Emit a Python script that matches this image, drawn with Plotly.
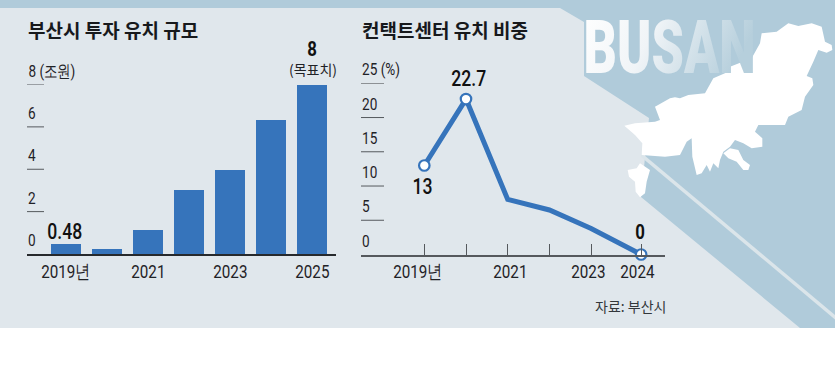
import plotly.graph_objects as go

W, H = 835, 383
NUM = "Roboto, sans-serif"
KR = "Noto Sans CJK KR, sans-serif"
INK = "#1f2226"
BLUE = "#3674bb"
LIGHT = "#e0e7ec"
BAND = "#b0cbda"

# ---- data ----
bar_title = "부산시 투자 유치 규모"
bar_years = [2019, 2020, 2021, 2022, 2023, 2024, 2025]
bar_values = [0.48, 0.27, 1.15, 3.05, 4.0, 6.33, 8]
bar_tick_years = [2019, 2021, 2023, 2025]
bar_tick_labels = ["2019년", "2021", "2023", "2025"]
bar_y_ticks = [0, 2, 4, 6, 8]
bar_y_labels = ["0", "2", "4", "6", "8 (조원)"]

line_title = "컨택트센터 유치 비중"
line_years = [2019, 2020, 2021, 2022, 2023, 2024.2]
line_values = [13, 22.7, 8.05, 6.5, 3.8, 0]
line_marked = [0, 1, 5]
line_tick_labels = ["2019년", "2021", "2023", "2024"]
line_tick_years = [2019, 2021, 2023, 2024.2]
line_tick_shift = [-6, 3, -3, -4]
line_y_ticks = [0, 5, 10, 15, 20, 25]
line_y_labels = ["0", "5", "10", "15", "20", "25 (%)"]
source = "자료: 부산시"


def px(x):
    return x / W


def py(y):
    return 1 - y / H


def poly(points, fill):
    d = "M" + " L".join(f"{px(x):.5f},{py(y):.5f}" for x, y in points) + " Z"
    return dict(type="path", xref="paper", yref="paper", path=d,
                fillcolor=fill, line=dict(width=0), layer="below")


def zoomed(points):
    return [(555 + x / 3, y / 3) for x, y in points]


map_main = zoomed([(208,377),(240,370),(300,365),(315,360),(300,320),(345,295),(360,292),(375,295),(400,285),(450,280),
    (475,235),(520,215),(525,200),(590,175),(615,130),(620,100),(665,95),(700,70),(730,78),(770,70),(800,80),(810,125),
    (830,135),(832,150),(815,158),(790,150),(775,185),(755,228),(772,235),(775,255),(750,290),(740,330),(700,350),
    (690,375),(655,375),(610,375),(600,395),(622,415),(622,440),(590,445),(565,430),(540,420),(525,440),(505,455),
    (495,480),(490,505),(475,490),(465,515),(455,495),(440,520),(425,525),(412,470),(410,415),(395,425),(375,465),
    (330,470),(260,465),(262,430),(240,405)])
map_yeongdo = zoomed([(505,460),(525,445),(550,450),(565,480),(585,495),(580,510),(565,510),(545,485),(520,475)])
map_gadeok = zoomed([(218,510),(245,505),(255,490),(285,510),(275,545),(270,580),(255,592),(242,575),(240,545),(222,530)])

shapes = [
    dict(type="rect", xref="paper", yref="paper", x0=0, x1=1, y0=py(328), y1=1,
         fillcolor=BAND, line=dict(width=0), layer="below"),
    poly([(0,8),(560,8),(584,22),(584,76),(649,118),(641,197),(800,328),(0,328)], LIGHT),
    poly([(641,152.5),(641,157),(835,319.5),(835,315)], "#dbe5ea"),
    poly(map_main, "#ffffff"),
    poly(map_yeongdo, "#ffffff"),
    poly(map_gadeok, "#ffffff"),
]

ann = []


def text(x, y, s, size=14, color=INK, font=NUM, xanchor="center", weight=400):
    ann.append(dict(x=px(x), y=py(y), xref="paper", yref="paper", text=s, showarrow=False, borderpad=0,
                    xanchor=xanchor, yanchor="middle",
                    font=dict(size=size, color=color, family=font, weight=weight)))


for v, lab in zip(bar_y_ticks, bar_y_labels):
    if v:
        shapes.append(dict(type="line", xref="paper", yref="y", x0=px(27), x1=px(44), y0=v, y1=v,
                           line=dict(color="#55595d", width=1)))
    ann.append(dict(x=px(27), y=v, xref="paper", yref="y", text=lab, showarrow=False, xanchor="left", borderpad=0,
                    yanchor="bottom", yshift=3, font=dict(size=17, color=INK, family=NUM)))

for v, lab in zip(line_y_ticks, line_y_labels):
    if v:
        shapes.append(dict(type="line", xref="paper", yref="y2", x0=px(361), x1=px(384), y0=v, y1=v,
                           line=dict(color="#55595d", width=1)))
    ann.append(dict(x=px(361), y=v, xref="paper", yref="y2", text=lab, showarrow=False, xanchor="left", borderpad=0,
                    yanchor="bottom", yshift=3, font=dict(size=17, color=INK, family=NUM)))

for yr, lab in zip(bar_tick_years, bar_tick_labels):
    ann.append(dict(x=yr, y=0, xref="x", yref="y", text=lab, showarrow=False, yanchor="top", yshift=-4,
                    font=dict(size=19, color=INK, family=NUM)))

for yr, lab, sh in zip(line_tick_years, line_tick_labels, line_tick_shift):
    ann.append(dict(x=yr, y=0, xref="x2", yref="y2", text=lab, showarrow=False, yanchor="top", yshift=-3,
                    xshift=sh, font=dict(size=19, color=INK, family=NUM)))

text(27, 30, bar_title, 19, "#17191c", KR, "left", 700)
text(361, 30, line_title, 19, "#17191c", KR, "left", 700)
text(65, 231, str(bar_values[0]), 22, "#111", NUM, weight=500)
text(312, 49, str(bar_values[-1]), 21, "#111", NUM, weight=700)
text(313, 69, "(목표치)", 14, INK, KR)
text(469, 78, str(line_values[1]), 22, "#111", NUM, weight=500)
text(423, 186, str(line_values[0]), 22, "#111", NUM, weight=500)
text(640, 232, str(line_values[-1]), 21, "#111", NUM, weight=700)
text(667, 306, source, 14, "#33373b", KR, "right")
text(669, 47, "BUSAN", 54, "#f4f7f9", NUM, weight=900)

fig = go.Figure()
fig.add_trace(go.Bar(x=bar_years, y=bar_values, width=30 / 41, marker=dict(color=BLUE, line=dict(width=0)),
                     xaxis="x", yaxis="y", showlegend=False, cliponaxis=False))
fig.add_trace(go.Scatter(x=line_years, y=line_values, mode="lines", xaxis="x2", yaxis="y2", showlegend=False,
                         line=dict(color=BLUE, width=5), cliponaxis=False))
fig.add_trace(go.Scatter(x=[line_years[i] for i in line_marked], y=[line_values[i] for i in line_marked],
                         mode="markers", xaxis="x2", yaxis="y2", showlegend=False, cliponaxis=False,
                         marker=dict(size=10.5, color="white", line=dict(color=BLUE, width=2.2))))

fig.update_layout(
    width=W, height=H, margin=dict(l=0, r=0, t=0, b=0), paper_bgcolor="white", plot_bgcolor="rgba(0,0,0,0)",
    shapes=shapes, annotations=ann, bargap=0,
    xaxis=dict(domain=[px(27), px(336)], range=[2019 - 39 / 41, 2019 + 270 / 41], anchor="y",
               showticklabels=False, ticks="", showgrid=False, zeroline=False,
               showline=True, linecolor="#26292c", linewidth=1.5),
    yaxis=dict(domain=[py(254), py(84.5)], range=[0, 8], anchor="x", showticklabels=False, showgrid=False,
               zeroline=False, ticks="", showline=False),
    xaxis2=dict(domain=[px(361), px(665)], range=[2019 - 63.3 / 41.7, 2019 + 240.7 / 41.7], anchor="y2",
                tickvals=line_years, ticktext=[""] * 6, ticks="inside", ticklen=11, tickwidth=1, tickcolor="#55595d",
                showgrid=False, zeroline=False, showline=True, linecolor="#55595d", linewidth=1.5),
    yaxis2=dict(domain=[py(254.5), py(83.3)], range=[0, 25], anchor="x2", showticklabels=False, showgrid=False,
                zeroline=False, ticks="", showline=False),
)

# Narrow the numerals (no condensed face is installed) and give BUSAN its fading gradient.
POST = """
document.body.style.margin='0';document.body.style.overflow='hidden';
var gd=document.querySelector('.plotly-graph-div');
var svg=gd.querySelector('svg.main-svg');
var NS='http://www.w3.org/2000/svg';
var defs=document.createElementNS(NS,'defs');
defs.innerHTML='<linearGradient id="busanfade" x1="0" y1="0" x2="1" y2="0.25">'+
 '<stop offset="0" stop-color="#ffffff"/><stop offset="0.45" stop-color="#f0f4f7"/>'+
 '<stop offset="1" stop-color="#b6cfdc"/></linearGradient>';
svg.appendChild(defs);
var left=['8 (조원)','25 (%)','0','2','4','6','5','10','15','20'];
gd.querySelectorAll('.annotation-text').forEach(function(t){
  var s=t.textContent, fam=(t.style.fontFamily||'');
  if(s==='BUSAN'){
    t.style.fill='url(#busanfade)';
    t.style.transformBox='fill-box';t.style.transformOrigin='center';
    t.style.transform='scale(0.96,1.36)';
    return;
  }
  if(fam.indexOf('Roboto')<0) return;
  t.style.transformBox='fill-box';
  var isBoldZero=(s==='0'&&t.style.fontWeight>=600);
  t.style.transformOrigin=(left.indexOf(s)>=0&&!isBoldZero)?'left center':'center';
  t.style.transform='scaleX(0.8)';
});
"""
fig.write_html("out.html", config=dict(displayModeBar=False), post_script=POST)
